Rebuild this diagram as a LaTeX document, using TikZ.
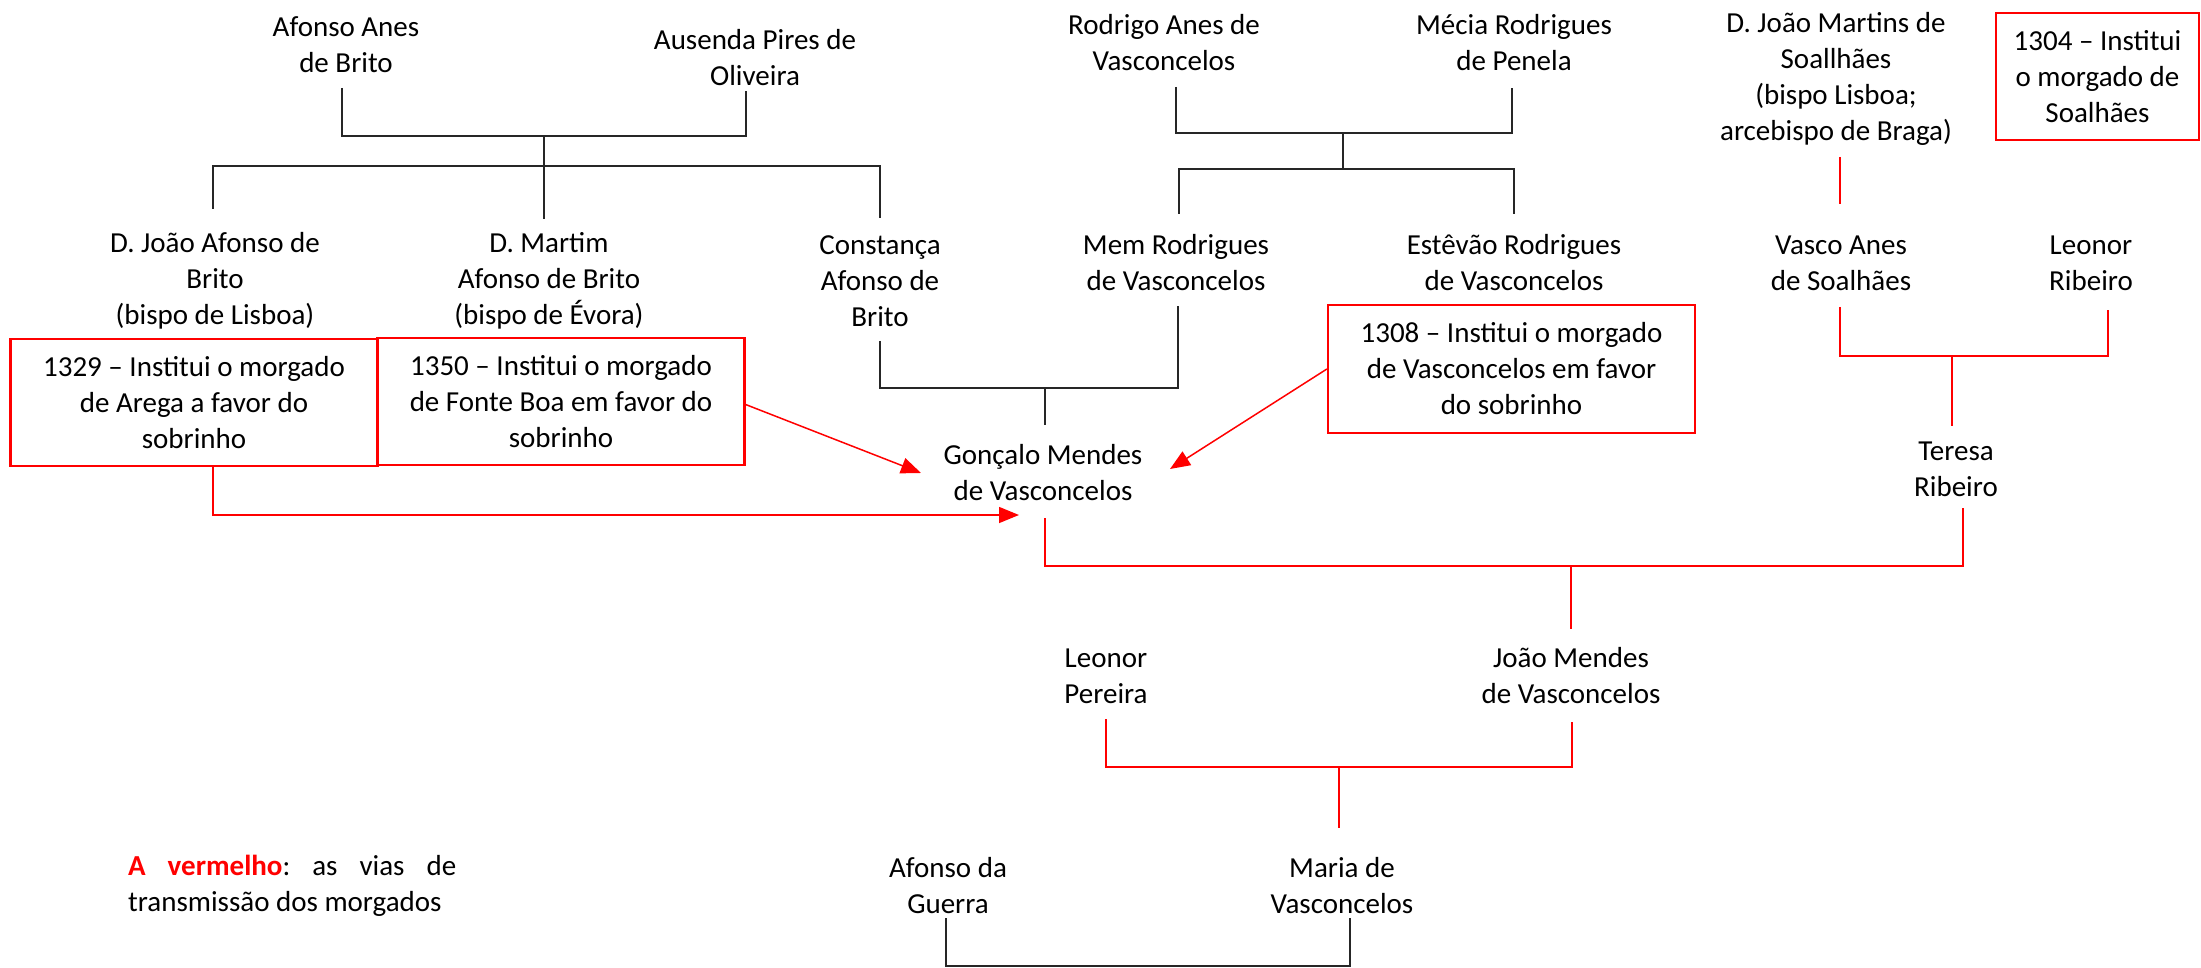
\documentclass[tikz,border=0pt]{standalone}
\usepackage{fontspec}
\setmainfont{Carlito}
\usetikzlibrary{arrows.meta}
\frenchspacing
\begin{document}
\begin{tikzpicture}[x=1pt,y=-1pt,
  txt/.style={align=center, inner sep=0pt, font=\fontsize{29}{36}\selectfont},
  rbox/.style={draw=red, line width=2.2pt, txt, minimum width=367pt, minimum height=127pt},
  blk/.style={line width=1.5pt, black!85},
  redline/.style={line width=1.5pt, red},
  rarrow/.style={redline, -{Triangle[length=20pt,width=16pt]}}]
\useasboundingbox (0,0) rectangle (2201,968);
% persons
\node[txt] (afonso) at (346,45) {Afonso Anes\\de Brito};
\node[txt] (ausenda) at (755,57.5) {Ausenda Pires de\\Oliveira};
\node[txt] (rodrigo) at (1164,43) {Rodrigo Anes de\\Vasconcelos};
\node[txt] (mecia) at (1514,43) {Mécia Rodrigues\\de Penela};
\node[txt] (djm) at (1836,79) {D. João Martins de\\Soallhães\\(bispo Lisboa;\\arcebispo de Braga)};
\node[rbox, minimum width=203pt] (m1304) at (2097.5,76.5) {1304 – Institui\\o morgado de\\Soalhães};
\node[txt] (djoaoA) at (215,281) {D. João Afonso de\\Brito\\(bispo de Lisboa)};
\node[txt] (martim) at (549,281) {D. Martim\\Afonso de Brito\\(bispo de Évora)};
\node[txt] (constanca) at (880,281) {Constança\\Afonso de\\Brito};
\node[txt] (mem) at (1176,263) {Mem Rodrigues\\de Vasconcelos};
\node[txt] (estevao) at (1514,263) {Estêvão Rodrigues\\de Vasconcelos};
\node[txt] (vasco) at (1841,263) {Vasco Anes\\de Soalhães};
\node[txt] (leonor) at (2091,263) {Leonor\\Ribeiro};
\node[rbox] (m1329) at (194,402.5) {1329 – Institui o morgado\\de Arega a favor do\\sobrinho};
\node[rbox] (m1350) at (561,401.5) {1350 – Institui o morgado\\de Fonte Boa em favor do\\sobrinho};
\node[rbox, minimum height=128pt] (m1308) at (1511.5,369) {1308 – Institui o morgado\\de Vasconcelos em favor\\do sobrinho};
\node[txt] (goncalo) at (1043,472.5) {Gonçalo Mendes\\de Vasconcelos};
\node[txt] (teresa) at (1956,469.5) {Teresa\\Ribeiro};
\node[txt] (leonorP) at (1106,676) {Leonor\\Pereira};
\node[txt] (joaoM) at (1571,676) {João Mendes\\de Vasconcelos};
\node[txt] (afonsoG) at (948,885.5) {Afonso da\\Guerra};
\node[txt] (maria) at (1342,885.5) {Maria de\\Vasconcelos};
\node[txt, align=justify, text width=328pt, anchor=west] (legend) at (128,885.5)
  {\hyphenpenalty=10000 \frenchspacing\textcolor{red}{\textbf{A vermelho}}: as vias de\linebreak transmissão dos morgados};
% coordinates
\coordinate (a1) at (342,88);  \coordinate (a2) at (746,91);
\coordinate (j1) at (544,136); \coordinate (j2) at (544,166);
\coordinate (d1) at (213,209); \coordinate (d2) at (544,219); \coordinate (d3) at (880,218);
\coordinate (r1) at (1176,87); \coordinate (r2) at (1512,88);
\coordinate (k1) at (1343,133); \coordinate (k2) at (1343,169);
\coordinate (e1) at (1179,214); \coordinate (e2) at (1514,214);
\coordinate (c1) at (880,341); \coordinate (m1) at (1178,306);
\coordinate (g1) at (1045,388); \coordinate (g2) at (1045,425);
\coordinate (s1) at (1840,157); \coordinate (s2) at (1840,204);
\coordinate (v1) at (1840,307); \coordinate (l1) at (2108,310);
\coordinate (t1) at (1952,356); \coordinate (t2) at (1952,426);
\coordinate (g3) at (1045,518); \coordinate (t3) at (1963,508);
\coordinate (h1) at (1571,566); \coordinate (h2) at (1571,629);
\coordinate (p1) at (1106,719); \coordinate (q1) at (1572,722);
\coordinate (h3) at (1339,767); \coordinate (h4) at (1339,828);
\coordinate (f1) at (946,918); \coordinate (f2) at (1350,918); \coordinate (h5) at (1148,966);
\coordinate (ga) at (1019,515); \coordinate (gb) at (921,473); \coordinate (gc) at (1170,469);
% black connectors
\draw[blk] (a1) |- (j1) -| (a2);
\draw[blk] (j1) -- (d2);
\draw[blk] (d1) |- (j2) -| (d3);
\draw[blk] (r1) |- (k1) -| (r2);
\draw[blk] (k1) -- (k2);
\draw[blk] (e1) |- (k2) -| (e2);
\draw[blk] (c1) |- (g1) -| (m1);
\draw[blk] (g1) -- (g2);
\draw[blk] (f1) |- (h5) -| (f2);
% red connectors
\draw[redline] (s1) -- (s2);
\draw[redline] (v1) |- (t1) -| (l1);
\draw[redline] (t1) -- (t2);
\draw[redline] (g3) |- (h1) -| (t3);
\draw[redline] (h1) -- (h2);
\draw[redline] (p1) |- (h3) -| (q1);
\draw[redline] (h3) -- (h4);
% arrows
\draw[rarrow] ([xshift=19pt]m1329.south) |- (ga);
\draw[rarrow] ([yshift=-3pt]m1350.east) -- (gb);
\draw[rarrow] (m1308.west) -- (gc);
\end{tikzpicture}
\end{document}
